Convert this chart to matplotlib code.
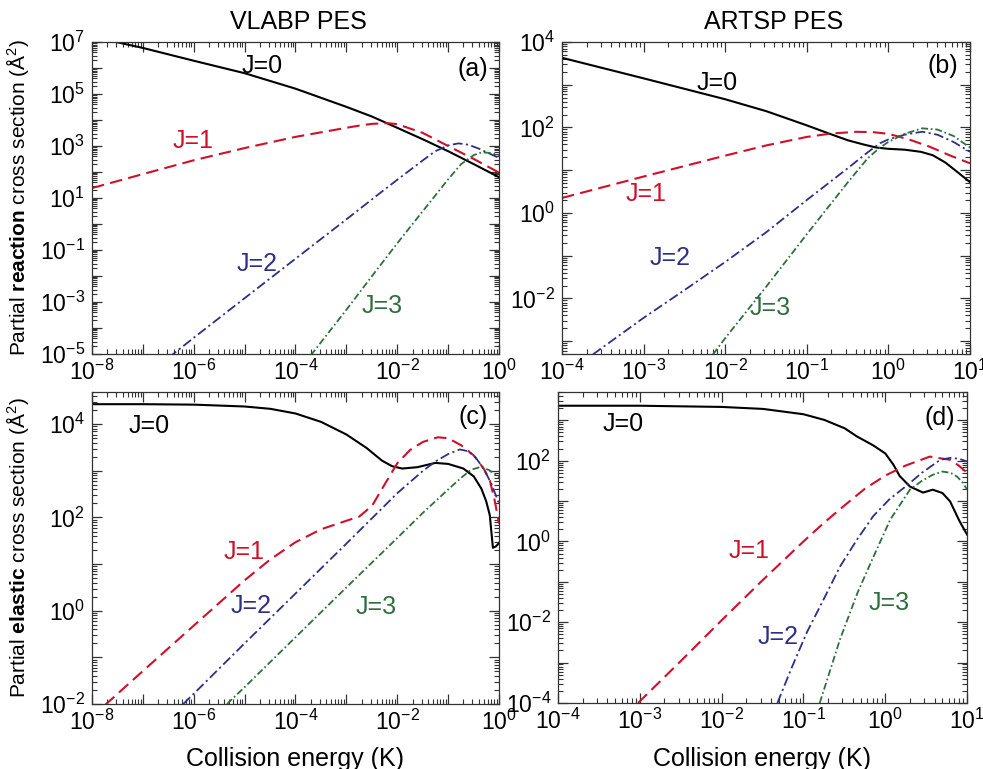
"""
plot.py
Partial reaction / elastic cross sections for J=0..3 on two PESs.
"""
import matplotlib
matplotlib.use("Agg")
import matplotlib.pyplot as plt
import numpy as np
from matplotlib.ticker import LogLocator, NullFormatter

# ---- panel (a): VLABP, reaction ----
a_j0_x = [1e-8, 1e-7, 1e-6, 1e-5, 1e-4, 1e-3, 3.2e-3, 1e-2, 3.2e-2, 0.1, 0.32, 1.0]
a_j0_y = [1.6e7, 5.9e6, 1.9e6, 6.3e5, 1.6e5, 3.2e4, 1.35e4, 5.0e3, 1.8e3, 630, 200, 63]
a_j1_x = [1e-8, 1e-7, 1e-6, 1e-5, 1e-4, 1e-3, 2e-3, 3.2e-3, 6.3e-3, 1e-2, 3.2e-2, 0.1, 0.32, 1.0]
a_j1_y = [24, 83, 282, 832, 2240, 5010, 6300, 7080, 7590, 6920, 3160, 1000, 316, 95]
a_j2_x = [3.2e-7, 1e-6, 1e-5, 1e-4, 1e-3, 4.6e-3, 1e-2, 3.2e-2, 5.6e-2, 0.1, 0.16, 0.25, 0.4, 0.63, 1.0]
a_j2_y = [7.2e-6, 4.2e-5, 1.4e-3, 4.6e-2, 1.5, 15.5, 50, 282, 631, 1050, 1260, 1120, 794, 525, 347]
a_j3_x = [2.0e-4, 1e-3, 3.2e-3, 1e-2, 3.2e-2, 0.1, 0.18, 0.32, 0.45, 0.63, 1.0]
a_j3_y = [8.9e-6, 5.0e-4, 1.0e-2, 0.18, 3.16, 52, 200, 447, 562, 550, 447]

# ---- panel (b): ARTSP, reaction ----
b_j0_x = [1e-4, 1e-3, 1e-2, 3.2e-2, 0.1, 0.18, 0.32, 0.5, 0.71, 1.0, 1.58, 2.5, 3.5, 5.0, 7.1, 10]
b_j0_y = [4270, 1410, 457, 240, 112, 74, 50, 39.8, 33.9, 31.6, 30.2, 26.9, 22.4, 15.1, 8.9, 5.25]
b_j1_x = [1e-4, 1e-3, 1e-2, 3.2e-2, 0.1, 0.2, 0.4, 0.63, 1.0, 1.78, 3.2, 5.6, 10]
b_j1_y = [2.24, 7.1, 21.9, 38, 60, 72, 79, 78, 71, 52.5, 35.5, 22.4, 14.5]
b_j2_x = [2.4e-4, 1e-3, 3.2e-3, 1e-2, 3.2e-2, 0.1, 0.32, 0.56, 0.79, 1.0, 1.58, 2.6, 4.0, 6.3, 10]
b_j2_y = [4.9e-4, 3.5e-3, 1.58e-2, 7.1e-2, 0.355, 2.0, 11.2, 26.3, 42.7, 52.5, 67.6, 79.4, 67.6, 45.7, 26.9]
b_j3_x = [7.1e-3, 1e-2, 3.2e-2, 0.1, 0.32, 0.56, 0.79, 1.0, 1.58, 2.6, 4.0, 6.3, 10]
b_j3_y = [4.9e-4, 1.17e-3, 1.9e-2, 0.316, 5.25, 19.1, 33.9, 45.7, 70.8, 95.5, 89.1, 63.1, 33.9]

# ---- panel (c): VLABP, elastic ----
c_j0_x = [1e-8, 1e-7, 1e-6, 1e-5, 3.2e-5, 1e-4, 3.2e-4, 1e-3, 2.5e-3, 5e-3, 7.9e-3, 1.26e-2,
          2.5e-2, 5.6e-2, 0.1, 0.2, 0.32, 0.45, 0.56, 0.66, 0.76, 0.87, 1.0]
c_j0_y = [2.69e4, 2.69e4, 2.63e4, 2.4e4, 2.14e4, 1.7e4, 1.12e4, 6030, 3090, 1660, 1260, 1120,
          1200, 1480, 1410, 1120, 759, 417, 224, 112, 22.4, 24, 28.2]
c_j1_x = [1.8e-8, 1e-7, 1e-6, 1e-5, 3.2e-5, 1e-4, 3.2e-4, 1e-3, 1.8e-3, 3.2e-3, 5.6e-3, 1e-2,
          1.8e-2, 3.2e-2, 6.3e-2, 0.1, 0.18, 0.32, 0.5, 0.66, 0.83, 1.0]
c_j1_y = [9.5e-3, 5.1e-2, 0.48, 4.5, 12.6, 29.5, 56, 85, 105, 178, 501, 1450,
          2820, 4170, 5250, 5010, 3550, 2140, 1120, 631, 224, 74]
c_j2_x = [6.2e-7, 1e-6, 1e-5, 1e-4, 1e-3, 1e-2, 3.2e-2, 5.6e-2, 0.1, 0.17, 0.25, 0.35, 0.5, 0.71, 1.0]
c_j2_y = [1e-2, 1.66e-2, 0.2, 2.34, 27.5, 331, 1000, 1580, 2290, 2880, 2630, 1910, 1120, 525, 200]
c_j3_x = [4.5e-6, 1e-5, 1e-4, 1e-3, 1e-2, 3.2e-2, 0.1, 0.18, 0.28, 0.42, 0.63, 1.0]
c_j3_y = [1e-2, 2.3e-2, 0.27, 3.16, 36.3, 126, 398, 708, 1050, 1200, 1050, 724]

# ---- panel (d): ARTSP, elastic ----
d_j0_x = [1e-4, 1e-3, 1e-2, 3.2e-2, 0.1, 0.18, 0.32, 0.45, 0.71, 1.0, 1.26, 1.5, 2.0, 2.9, 3.8,
          5.0, 6.2, 8.1, 10]
d_j0_y = [2290, 2290, 2140, 1910, 1410, 1020, 631, 398, 240, 151, 79, 41.7, 22.9, 16.2, 19.1,
          15.8, 9.8, 3.16, 1.48]
d_j1_x = [9.5e-4, 3.2e-3, 1e-2, 3.2e-2, 0.1, 0.18, 0.32, 0.56, 1.0, 1.78, 3.5, 6.2, 7.9, 10]
d_j1_y = [1e-4, 1.12e-3, 1.12e-2, 0.112, 1.0, 2.95, 7.9, 20, 42.7, 75.9, 126, 105, 75.9, 50]
d_j2_x = [4.8e-2, 7.1e-2, 0.11, 0.18, 0.28, 0.45, 0.71, 1.12, 1.9, 2.8, 4.7, 6.2, 7.9, 10]
d_j2_y = [1e-4, 7.1e-4, 5.6e-3, 4.0e-2, 0.24, 1.1, 4.2, 11, 25.7, 50, 105, 117, 112, 95.5]
d_j3_x = [0.158, 0.28, 0.46, 0.71, 1.15, 2.0, 2.8, 3.8, 5.0, 6.3, 7.6, 8.9, 10]
d_j3_y = [1e-4, 3.8e-3, 5.5e-2, 0.4, 3.47, 19.1, 31.6, 44.7, 53.7, 50, 39.8, 28.2, 19.1]

COLORS = ["black", "#d0102a", "#2e2e88", "#2f6e3e"]
STYLES = ["-", (0, (9, 4.5)), (0, (7, 2.5, 1.5, 2.5)), (0, (5, 2, 1.2, 2))]
WIDTHS = [1.5, 1.5, 1.3, 1.3]

plt.rcParams["font.family"] = ["Liberation Sans", "DejaVu Sans"]
plt.rcParams["mathtext.fontset"] = "custom"
plt.rcParams["mathtext.rm"] = "Liberation Sans"
plt.rcParams["mathtext.it"] = "Liberation Sans:italic"
plt.rcParams["mathtext.bf"] = "Liberation Sans:bold"
plt.rcParams["lines.scale_dashes"] = False


def setup_axes(ax, xlim, ylim, xexp, xlab, yexp, ylab):
    ax.set_xscale("log")
    ax.set_yscale("log")
    ax.set_xticks([10.0 ** e for e in xexp])
    ax.set_xticklabels([f"$10^{{{e}}}$" if e in xlab else "" for e in xexp])
    ax.set_yticks([10.0 ** e for e in yexp])
    ax.set_yticklabels([f"$10^{{{e}}}$" if e in ylab else "" for e in yexp])
    ax.xaxis.set_minor_locator(LogLocator(base=10, subs=np.arange(2, 10), numticks=100))
    ax.yaxis.set_minor_locator(LogLocator(base=10, subs=np.arange(2, 10), numticks=100))
    ax.xaxis.set_minor_formatter(NullFormatter())
    ax.yaxis.set_minor_formatter(NullFormatter())
    ax.set_xlim(*xlim)
    ax.set_ylim(*ylim)
    ax.tick_params(which="both", direction="in", top=True, right=True,
                   color="#333333", labelsize=16.5)
    ax.tick_params(which="major", length=7, width=0.9)
    ax.tick_params(which="minor", length=3.5, width=0.8)
    ax.tick_params(axis="y", pad=5)
    ax.tick_params(axis="x", pad=4)
    for sp in ax.spines.values():
        sp.set_color("#333333")
        sp.set_linewidth(0.9)


def draw(ax, series, labels, tag):
    for i, (x, y) in enumerate(series):
        ax.plot(x, y, color=COLORS[i], linestyle=STYLES[i], linewidth=WIDTHS[i])
    for i, (fx, fy) in enumerate(labels):
        ax.text(fx, fy, f"J={i}", color=COLORS[i], fontsize=18,
                ha="center", va="center", transform=ax.transAxes)
    ax.text(tag[1], tag[2], tag[0], fontsize=18, ha="right", va="center",
            transform=ax.transAxes)


def main():
    fig = plt.figure(figsize=(9.83, 7.69), dpi=100)
    ax_a = fig.add_axes([0.0936, 0.5397, 0.414, 0.4057])
    ax_b = fig.add_axes([0.5717, 0.5397, 0.415, 0.4057])
    ax_c = fig.add_axes([0.0936, 0.0845, 0.414, 0.4057])
    ax_d = fig.add_axes([0.5677, 0.0858, 0.4161, 0.4044])

    draw(ax_a, [(a_j0_x, a_j0_y), (a_j1_x, a_j1_y), (a_j2_x, a_j2_y), (a_j3_x, a_j3_y)],
         [(0.418, 0.923), (0.248, 0.683), (0.405, 0.288), (0.713, 0.154)],
         ("(a)", 0.973, 0.913))
    draw(ax_b, [(b_j0_x, b_j0_y), (b_j1_x, b_j1_y), (b_j2_x, b_j2_y), (b_j3_x, b_j3_y)],
         [(0.380, 0.869), (0.206, 0.513), (0.265, 0.308), (0.51, 0.147)],
         ("(b)", 0.971, 0.923))
    draw(ax_c, [(c_j0_x, c_j0_y), (c_j1_x, c_j1_y), (c_j2_x, c_j2_y), (c_j3_x, c_j3_y)],
         [(0.14, 0.891), (0.373, 0.487), (0.391, 0.314), (0.698, 0.311)],
         ("(c)", 0.973, 0.92))
    draw(ax_d, [(d_j0_x, d_j0_y), (d_j1_x, d_j1_y), (d_j2_x, d_j2_y), (d_j3_x, d_j3_y)],
         [(0.159, 0.897), (0.467, 0.489), (0.538, 0.212), (0.809, 0.322)],
         ("(d)", 0.971, 0.916))

    setup_axes(ax_a, (1e-8, 1.0), (1e-5, 1e7), range(-8, 1), [-8, -6, -4, -2, 0],
               range(-5, 8), [-5, -3, -1, 1, 3, 5, 7])
    setup_axes(ax_b, (1e-4, 10.0), (5e-4, 1e4), range(-4, 2), [-4, -3, -2, -1, 0, 1],
               range(-3, 5), [-2, 0, 2, 4])
    setup_axes(ax_c, (1e-8, 1.0), (1e-2, 4.9e4), range(-8, 1), [-8, -6, -4, -2, 0],
               range(-2, 5), [-2, 0, 2, 4])
    setup_axes(ax_d, (1e-4, 10.0), (1e-4, 5e3), range(-4, 2), [-4, -3, -2, -1, 0, 1],
               range(-4, 4), [-4, -2, 0, 2])

    ax_a.set_ylabel("Partial $\\mathbf{reaction}$ cross section (Å$^2$)", fontsize=15)
    ax_c.set_ylabel("Partial $\\mathbf{elastic}$ cross section (Å$^2$)", fontsize=15)
    ax_a.yaxis.set_label_coords(-0.15, 0.5)
    ax_c.yaxis.set_label_coords(-0.15, 0.5)
    ax_c.set_xlabel("Collision energy (K)", fontsize=18)
    ax_d.set_xlabel("Collision energy (K)", fontsize=18)
    ax_c.xaxis.set_label_coords(0.499, -0.138)
    ax_d.xaxis.set_label_coords(0.499, -0.141)

    fig.text(298 / 983, 1 - 22 / 769, "VLABP PES", fontsize=18, ha="center", va="center")
    fig.text(774 / 983, 1 - 22 / 769, "ARTSP PES", fontsize=18, ha="center", va="center")

    fig.savefig("out.png", dpi=100)
    plt.close(fig)


if __name__ == "__main__":
    main()
